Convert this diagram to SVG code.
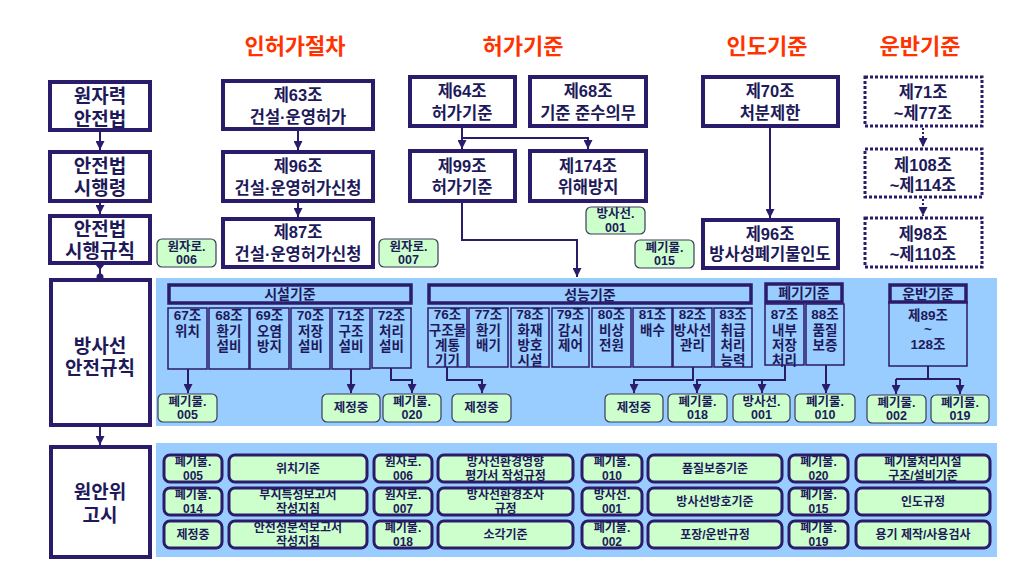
<svg xmlns="http://www.w3.org/2000/svg" width="1020" height="569" viewBox="0 0 1020 569">
<defs>
<marker id="ah" viewBox="0 0 10 10" refX="10" refY="5" markerWidth="9" markerHeight="9" markerUnits="userSpaceOnUse" orient="auto"><path d="M0,0 L10,5 L0,10 z" fill="#2b1b6b"/></marker>
<style>
text{font-family:"Liberation Sans","Noto Sans CJK KR",sans-serif;font-weight:bold;fill:#1e1a5a;text-anchor:middle;dominant-baseline:central}
.title{font-size:22px;fill:#ff3300}
.big{font-size:19px}
.mid{font-size:16.5px}
.sm{font-size:13.5px}
.hd{font-size:14px}
.tg{font-size:12.5px}
.gt{font-size:12px}
.box{fill:#fff;stroke:#2b1b6b;stroke-width:4}
.dot{fill:#fff;stroke:#2b1b6b;stroke-width:3;stroke-dasharray:3 2}
.band{fill:#99ccff}
.hdr{fill:#99ccff;stroke:#2b1b6b;stroke-width:3.5}
.sub{fill:#99ccff;stroke:#2b1b6b;stroke-width:1.5}
.tag{fill:#ccffcc;stroke:#3a3a5a;stroke-width:1.2}
.gb{fill:#ccffcc;stroke:#2b1b6b;stroke-width:3}
.c{fill:none;stroke:#2b1b6b;stroke-width:2}
.cd{fill:none;stroke:#2b1b6b;stroke-width:2;stroke-dasharray:2 2}
</style>
</defs>
<rect width="1020" height="569" fill="#fff"/>

<g id="titles">
<text class="title" x="295" y="46">인허가절차</text>
<text class="title" x="523" y="46">허가기준</text>
<text class="title" x="767" y="46">인도기준</text>
<text class="title" x="920" y="46">운반기준</text>
</g>

<g id="bands">
<rect class="band" x="156" y="278" width="841" height="148"/>
<rect class="band" x="156" y="443" width="841" height="114"/>
</g>

<g id="law">
<rect class="box" x="50" y="82" width="100" height="48"/>
<text class="big" x="100" y="96">원자력</text><text class="big" x="100" y="119">안전법</text>
</g>
<g id="decree">
<rect class="box" x="50" y="152" width="100" height="49"/>
<text class="big" x="100" y="166">안전법</text><text class="big" x="100" y="188">시행령</text>
</g>
<g id="rule">
<rect class="box" x="50" y="216" width="100" height="47"/>
<text class="big" x="100" y="229">안전법</text><text class="big" x="100" y="251">시행규칙</text>
</g>
<g id="radsafety">
<rect class="box" x="51" y="280" width="99" height="145"/>
<text class="big" x="100" y="346">방사선</text><text class="big" x="100" y="368">안전규칙</text>
</g>
<g id="notice">
<rect class="box" x="51" y="447" width="99" height="110"/>
<text class="big" x="100" y="492">원안위</text><text class="big" x="100" y="515">고시</text>
</g>

<g id="a63">
<rect class="box" x="223" y="81" width="150" height="48"/>
<text class="mid" x="298" y="95">제63조</text><text class="mid" x="298" y="117">건설·운영허가</text>
</g>
<g id="a96">
<rect class="box" x="223" y="152" width="150" height="49"/>
<text class="mid" x="298" y="166">제96조</text><text class="mid" x="298" y="188">건설·운영허가신청</text>
</g>
<g id="a87">
<rect class="box" x="223" y="219" width="150" height="48"/>
<text class="mid" x="298" y="232">제87조</text><text class="mid" x="298" y="254">건설·운영허가신청</text>
</g>
<g id="t006">
<rect class="tag" x="157" y="239" width="59" height="28" rx="5"/>
<text class="tg" x="186.5" y="246.5">원자로.</text><text class="tg" x="186.5" y="260">006</text>
</g>
<g id="t007">
<rect class="tag" x="379" y="239" width="59" height="28" rx="5"/>
<text class="tg" x="408.5" y="246.5">원자로.</text><text class="tg" x="408.5" y="260">007</text>
</g>

<g id="a64">
<rect class="box" x="410" y="77" width="105" height="49"/>
<text class="mid" x="462" y="91">제64조</text><text class="mid" x="462" y="113">허가기준</text>
</g>
<g id="a68">
<rect class="box" x="530" y="77" width="116" height="49"/>
<text class="mid" x="588" y="91">제68조</text><text class="mid" x="588" y="113">기준 준수의무</text>
</g>
<g id="a99">
<rect class="box" x="410" y="151" width="105" height="50"/>
<text class="mid" x="462" y="166">제99조</text><text class="mid" x="462" y="187">허가기준</text>
</g>
<g id="a174">
<rect class="box" x="530" y="151" width="116" height="50"/>
<text class="mid" x="588" y="166">제174조</text><text class="mid" x="588" y="187">위해방지</text>
</g>
<g id="tr001top">
<rect class="tag" x="586" y="207" width="59" height="27" rx="5"/>
<text class="tg" x="615.5" y="214">방사선.</text><text class="tg" x="615.5" y="227.5">001</text>
</g>
<g id="tw015top">
<rect class="tag" x="635" y="240" width="59" height="28" rx="5"/>
<text class="tg" x="664.5" y="247.5">폐기물.</text><text class="tg" x="664.5" y="261">015</text>
</g>

<g id="a70">
<rect class="box" x="703" y="77" width="135" height="49"/>
<text class="mid" x="770" y="91">제70조</text><text class="mid" x="770" y="113">처분제한</text>
</g>
<g id="a96w">
<rect class="box" x="703" y="220" width="135" height="48"/>
<text class="mid" x="770" y="234">제96조</text><text class="mid" x="770" y="254">방사성폐기물인도</text>
</g>

<g id="a71">
<rect class="dot" x="865" y="77" width="117" height="49"/>
<text class="mid" x="923" y="92">제71조</text><text class="mid" x="923" y="113">~제77조</text>
</g>
<g id="a108">
<rect class="dot" x="865" y="149" width="117" height="48"/>
<text class="mid" x="923" y="165">제108조</text><text class="mid" x="923" y="185">~제114조</text>
</g>
<g id="a98">
<rect class="dot" x="865" y="218" width="117" height="49"/>
<text class="mid" x="923" y="234">제98조</text><text class="mid" x="923" y="254">~제110조</text>
</g>

<g id="facility">
<rect class="hdr" x="169" y="285" width="242" height="18"/>
<text class="hd" x="290" y="294">시설기준</text>
<rect class="sub" x="168" y="308" width="39" height="61"/>
<text class="sm" x="187.5" y="315">67조</text><text class="sm" x="187.5" y="331">위치</text>
<rect class="sub" x="209" y="308" width="40" height="61"/>
<text class="sm" x="229" y="315">68조</text><text class="sm" x="229" y="331">환기</text><text class="sm" x="229" y="346">설비</text>
<rect class="sub" x="250" y="308" width="39" height="61"/>
<text class="sm" x="269.5" y="315">69조</text><text class="sm" x="269.5" y="331">오염</text><text class="sm" x="269.5" y="346">방지</text>
<rect class="sub" x="291" y="308" width="39" height="61"/>
<text class="sm" x="310.5" y="315">70조</text><text class="sm" x="310.5" y="331">저장</text><text class="sm" x="310.5" y="346">설비</text>
<rect class="sub" x="332" y="308" width="38" height="61"/>
<text class="sm" x="351" y="315">71조</text><text class="sm" x="351" y="331">구조</text><text class="sm" x="351" y="346">설비</text>
<rect class="sub" x="372" y="308" width="39" height="60"/>
<text class="sm" x="391.5" y="315">72조</text><text class="sm" x="391.5" y="331">처리</text><text class="sm" x="391.5" y="346">설비</text>
</g>

<g id="performance">
<rect class="hdr" x="429" y="285" width="322" height="18"/>
<text class="hd" x="590" y="295">성능기준</text>
<rect class="sub" x="428" y="308" width="39" height="59"/>
<text class="sm" x="447.5" y="314">76조</text><text class="sm" x="447.5" y="330">구조물</text><text class="sm" x="447.5" y="345">계통</text><text class="sm" x="447.5" y="360">기기</text>
<rect class="sub" x="469" y="308" width="39" height="59"/>
<text class="sm" x="488.5" y="314">77조</text><text class="sm" x="488.5" y="330">환기</text><text class="sm" x="488.5" y="345">배기</text>
<rect class="sub" x="511" y="308" width="38" height="59"/>
<text class="sm" x="530" y="314">78조</text><text class="sm" x="530" y="330">화재</text><text class="sm" x="530" y="345">방호</text><text class="sm" x="530" y="360">시설</text>
<rect class="sub" x="552" y="308" width="37" height="59"/>
<text class="sm" x="570.5" y="314">79조</text><text class="sm" x="570.5" y="330">감시</text><text class="sm" x="570.5" y="345">제어</text>
<rect class="sub" x="592" y="308" width="39" height="59"/>
<text class="sm" x="611.5" y="314">80조</text><text class="sm" x="611.5" y="330">비상</text><text class="sm" x="611.5" y="345">전원</text>
<rect class="sub" x="633" y="308" width="39" height="59"/>
<text class="sm" x="652.5" y="314">81조</text><text class="sm" x="652.5" y="330">배수</text>
<rect class="sub" x="673" y="308" width="39" height="59"/>
<text class="sm" x="692.5" y="314">82조</text><text class="sm" x="692.5" y="330">방사선</text><text class="sm" x="692.5" y="345">관리</text>
<rect class="sub" x="714" y="308" width="38" height="59"/>
<text class="sm" x="733" y="314">83조</text><text class="sm" x="733" y="330">취급</text><text class="sm" x="733" y="345">처리</text><text class="sm" x="733" y="360">능력</text>
</g>

<g id="waste">
<rect class="hdr" x="766" y="284" width="76" height="18"/>
<text class="hd" x="804" y="293">폐기기준</text>
<rect class="sub" x="765" y="304" width="39" height="61"/>
<text class="sm" x="784.5" y="314">87조</text><text class="sm" x="784.5" y="330">내부</text><text class="sm" x="784.5" y="345">저장</text><text class="sm" x="784.5" y="360">처리</text>
<rect class="sub" x="806" y="304" width="38" height="61"/>
<text class="sm" x="825" y="314">88조</text><text class="sm" x="825" y="330">품질</text><text class="sm" x="825" y="345">보증</text>
</g>

<g id="transport">
<rect class="sub" x="889" y="302" width="78" height="64"/>
<rect class="hdr" x="890" y="285" width="76" height="17"/>
<text class="hd" x="928" y="294">운반기준</text>
<text class="sm" x="928" y="315">제89조</text><text class="sm" x="928" y="329">~</text><text class="sm" x="928" y="344">128조</text>
</g>

<g id="midtags">
<rect class="tag" x="158" y="394" width="59" height="28" rx="5"/>
<text class="tg" x="187.5" y="401.5">폐기물.</text><text class="tg" x="187.5" y="415">005</text>
<rect class="tag" x="322" y="394" width="58" height="28" rx="5"/>
<text class="tg" x="351" y="408">제정중</text>
<rect class="tag" x="383" y="394" width="58" height="28" rx="5"/>
<text class="tg" x="412" y="401.5">폐기물.</text><text class="tg" x="412" y="415">020</text>
<rect class="tag" x="452" y="394" width="59" height="28" rx="5"/>
<text class="tg" x="481.5" y="408">제정중</text>
<rect class="tag" x="605" y="394" width="58" height="28" rx="5"/>
<text class="tg" x="634" y="408">제정중</text>
<rect class="tag" x="668" y="394" width="59" height="28" rx="5"/>
<text class="tg" x="697.5" y="401.5">폐기물.</text><text class="tg" x="697.5" y="415">018</text>
<rect class="tag" x="733" y="394" width="57" height="28" rx="5"/>
<text class="tg" x="761.5" y="401.5">방사선.</text><text class="tg" x="761.5" y="415">001</text>
<rect class="tag" x="795" y="394" width="60" height="28" rx="5"/>
<text class="tg" x="825" y="401.5">폐기물.</text><text class="tg" x="825" y="415">010</text>
<rect class="tag" x="867" y="395" width="59" height="28" rx="5"/>
<text class="tg" x="896.5" y="402.5">폐기물.</text><text class="tg" x="896.5" y="416">002</text>
<rect class="tag" x="931" y="395" width="58" height="28" rx="5"/>
<text class="tg" x="960" y="402.5">폐기물.</text><text class="tg" x="960" y="416">019</text>
</g>

<g id="grid">
<rect class="gb" x="164" y="455" width="58" height="27" rx="6"/><text class="gt" x="193" y="462">폐기물.</text><text class="gt" x="193" y="475.5">005</text>
<rect class="gb" x="229" y="455" width="138" height="27" rx="6"/><text class="gt" x="298" y="468.5">위치기준</text>
<rect class="gb" x="374" y="455" width="58" height="27" rx="6"/><text class="gt" x="403" y="462">원자로.</text><text class="gt" x="403" y="475.5">006</text>
<rect class="gb" x="438" y="455" width="135" height="27" rx="6"/><text class="gt" x="505.5" y="462">방사선환경영향</text><text class="gt" x="505.5" y="475.5">평가서 작성규정</text>
<rect class="gb" x="582" y="455" width="60" height="27" rx="6"/><text class="gt" x="612" y="462">폐기물.</text><text class="gt" x="612" y="475.5">010</text>
<rect class="gb" x="648" y="455" width="134" height="27" rx="6"/><text class="gt" x="715" y="468.5">품질보증기준</text>
<rect class="gb" x="789" y="455" width="59" height="27" rx="6"/><text class="gt" x="818.5" y="462">폐기물.</text><text class="gt" x="818.5" y="475.5">020</text>
<rect class="gb" x="856" y="455" width="134" height="27" rx="6"/><text class="gt" x="923" y="462">폐기물처리시설</text><text class="gt" x="923" y="475.5">구조/설비기준</text>

<rect class="gb" x="164" y="488" width="58" height="27" rx="6"/><text class="gt" x="193" y="495">폐기물.</text><text class="gt" x="193" y="508.5">014</text>
<rect class="gb" x="229" y="488" width="138" height="27" rx="6"/><text class="gt" x="298" y="495">부지특성보고서</text><text class="gt" x="298" y="508.5">작성지침</text>
<rect class="gb" x="374" y="488" width="58" height="27" rx="6"/><text class="gt" x="403" y="495">원자로.</text><text class="gt" x="403" y="508.5">007</text>
<rect class="gb" x="438" y="488" width="135" height="27" rx="6"/><text class="gt" x="505.5" y="495">방사선환경조사</text><text class="gt" x="505.5" y="508.5">규정</text>
<rect class="gb" x="582" y="488" width="60" height="27" rx="6"/><text class="gt" x="612" y="495">방사선.</text><text class="gt" x="612" y="508.5">001</text>
<rect class="gb" x="648" y="488" width="134" height="27" rx="6"/><text class="gt" x="715" y="501.5">방사선방호기준</text>
<rect class="gb" x="789" y="488" width="59" height="27" rx="6"/><text class="gt" x="818.5" y="495">폐기물.</text><text class="gt" x="818.5" y="508.5">015</text>
<rect class="gb" x="856" y="488" width="134" height="27" rx="6"/><text class="gt" x="923" y="501.5">인도규정</text>

<rect class="gb" x="164" y="521" width="58" height="27" rx="6"/><text class="gt" x="193" y="534.5">제정중</text>
<rect class="gb" x="229" y="521" width="138" height="27" rx="6"/><text class="gt" x="298" y="528">안전성분석보고서</text><text class="gt" x="298" y="541.5">작성지침</text>
<rect class="gb" x="374" y="521" width="58" height="27" rx="6"/><text class="gt" x="403" y="528">폐기물.</text><text class="gt" x="403" y="541.5">018</text>
<rect class="gb" x="438" y="521" width="135" height="27" rx="6"/><text class="gt" x="505.5" y="534.5">소각기준</text>
<rect class="gb" x="582" y="521" width="60" height="27" rx="6"/><text class="gt" x="612" y="528">폐기물.</text><text class="gt" x="612" y="541.5">002</text>
<rect class="gb" x="648" y="521" width="134" height="27" rx="6"/><text class="gt" x="715" y="534.5">포장/운반규정</text>
<rect class="gb" x="789" y="521" width="59" height="27" rx="6"/><text class="gt" x="818.5" y="528">폐기물.</text><text class="gt" x="818.5" y="541.5">019</text>
<rect class="gb" x="856" y="521" width="134" height="27" rx="6"/><text class="gt" x="923" y="534.5">용기 제작/사용검사</text>
</g>

<g id="connectors">
<path class="c" d="M100,132 V150" marker-end="url(#ah)"/>
<path class="c" d="M100,203 V214" marker-end="url(#ah)"/>
<path class="c" d="M100,265 V277"/>
<path d="M95,264 H105 L100,270 z" fill="#2b1b6b"/>
<circle cx="100" cy="277" r="3.5" fill="#2b1b6b"/>
<path class="c" d="M100,427 V445" marker-end="url(#ah)"/>
<path class="c" d="M298,131 V150" marker-end="url(#ah)"/>
<path class="c" d="M298,203 V217" marker-end="url(#ah)"/>
<path class="c" d="M462,128 V149" marker-end="url(#ah)"/>
<path class="c" d="M462,138 H588 V149" marker-end="url(#ah)"/>
<path class="c" d="M462,203 V240 H577 V277" marker-end="url(#ah)"/>
<path class="c" d="M770,128 V218" marker-end="url(#ah)"/>
<path class="cd" d="M923,128 V147" marker-end="url(#ah)"/>
<path class="cd" d="M923,199 V216" marker-end="url(#ah)"/>
<path class="c" d="M188,369 V393" marker-end="url(#ah)"/>
<path class="c" d="M351,369 V393" marker-end="url(#ah)"/>
<path class="c" d="M391,368 V380 H412 V393" marker-end="url(#ah)"/>
<path class="c" d="M447,367 V380 H482 V393" marker-end="url(#ah)"/>
<path class="c" d="M693,367 V380 H634 V393" marker-end="url(#ah)"/>
<path class="c" d="M785,365 V380 H697 V393" marker-end="url(#ah)"/>
<path class="c" d="M762,380 V393" marker-end="url(#ah)"/>
<path class="c" d="M826,365 V393" marker-end="url(#ah)"/>
<path class="c" d="M928,366 V379"/>
<path class="c" d="M896,379 H960"/>
<path class="c" d="M896,379 V394" marker-end="url(#ah)"/>
<path class="c" d="M960,379 V394" marker-end="url(#ah)"/>
</g>
</svg>
